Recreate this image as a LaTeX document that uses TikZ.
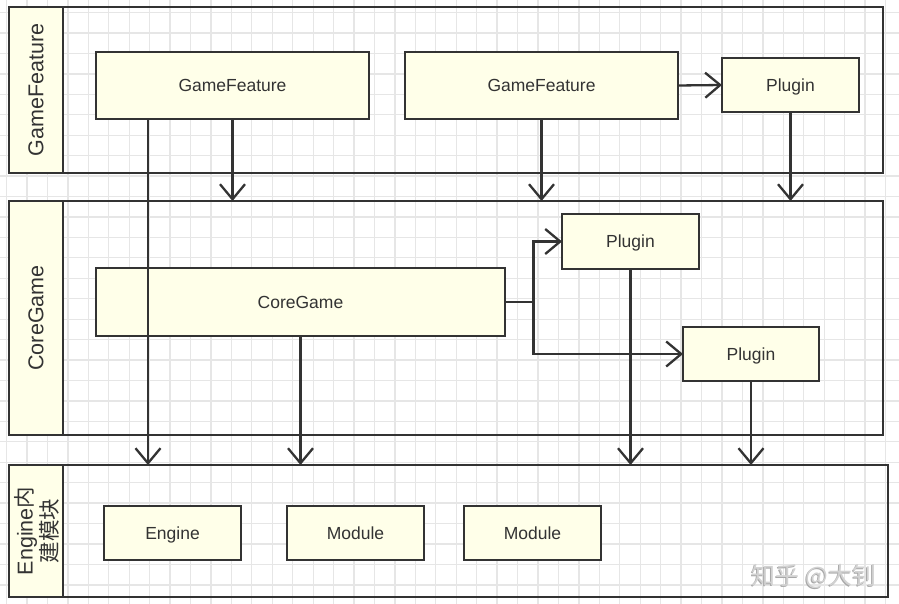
\documentclass[tikz,border=0pt]{standalone}
\usepackage{fontspec}
\setmainfont{Liberation Sans}
\newfontfamily\cjk{Noto Sans CJK SC}
\usetikzlibrary{arrows.meta}
\definecolor{ink}{HTML}{333333}
\definecolor{cream}{HTML}{FFFFE9}
\definecolor{gridline}{HTML}{E6E6E6}
\definecolor{markdark}{HTML}{A8A8A8}
\definecolor{marklight}{HTML}{D2D2D2}

\begin{document}
\begin{tikzpicture}[x=1pt,y=-1pt,
  every node/.style={inner sep=0pt, outer sep=0pt},
  box/.style={draw=ink, fill=cream, line width=2.3pt, text=ink,
    font=\fontsize{17.5}{21}\selectfont, text height=12.6pt, text depth=0pt},
  pool/.style={draw=ink, line width=2.6pt},
  strip/.style={draw=ink, fill=cream, line width=2.3pt},
  lane/.style={text=ink, font=\fontsize{21.5}{25}\selectfont, rotate=90, align=center},
  flow/.style={draw=ink, line width=2.3pt, -{Straight Barb[length=15pt,width=25pt]}},
]
\useasboundingbox (0,0) rectangle (899,604);
\fill[white] (0,0) rectangle (899,604);

% background grid
\foreach \i in {0,...,44}
  \draw[gridline, line width=1.3pt] ({6.56+20.44*\i},0) -- ({6.56+20.44*\i},604);
\foreach \j in {0,...,29}
  \draw[gridline, line width=1.3pt] (0,{12.56+20.44*\j}) -- (899,{12.56+20.44*\j});

% swimlanes
\node[pool, minimum width=874pt, minimum height=166pt] (poolGF) at (446,90) {};
\node[strip, minimum width=54pt, minimum height=166pt] (stripGF) at (36,90) {};
\node[lane] (labGF) at (36,90) {GameFeature};

\node[pool, minimum width=874pt, minimum height=234pt] (poolCG) at (446,318) {};
\node[strip, minimum width=54pt, minimum height=234pt] (stripCG) at (36,318) {};
\node[lane] (labCG) at (36,318) {CoreGame};

\node[pool, minimum width=879pt, minimum height=132pt] (poolEN) at (448.5,531) {};
\node[strip, minimum width=54pt, minimum height=132pt] (stripEN) at (36,531) {};
\node[lane] (labEN) at (37,531) {Engine{\cjk 内}\\{\cjk 建模块}};

% modules
\node[box, minimum width=273pt, minimum height=67pt] (gf1) at (232.5,85.5) {GameFeature};
\node[box, minimum width=273pt, minimum height=67pt] (gf2) at (541.5,85.5) {GameFeature};
\node[box, minimum width=137pt, minimum height=54pt] (ptop) at (790.5,85) {Plugin};
\node[box, minimum width=137pt, minimum height=55pt] (pc1) at (630.5,241.5) {Plugin};
\node[box, minimum width=409pt, minimum height=68pt] (core) at (300.5,302) {CoreGame};
\node[box, minimum width=136pt, minimum height=54pt] (pc2) at (751,354) {Plugin};
\node[box, minimum width=137pt, minimum height=54pt] (eng) at (172.5,533) {Engine};
\node[box, minimum width=137pt, minimum height=54pt] (mod1) at (355.5,533) {Module};
\node[box, minimum width=137pt, minimum height=54pt] (mod2) at (532.5,533) {Module};

% dependencies
\coordinate (xa) at (148,0);
\coordinate (br) at (533.5,302);
\draw[flow] (gf1.south -| xa) -- (poolEN.north -| xa);
\draw[flow] (gf1.south) -- (gf1.south |- poolCG.north);
\draw[flow] (gf2.south) -- (gf2.south |- poolCG.north);
\draw[flow] (gf2.east) -- (ptop.west);
\draw[flow] (ptop.south) -- (ptop.south |- poolCG.north);
\draw[flow] (core.south) -- (core.south |- poolEN.north);
\draw[flow] (core.east) -- (br) |- (pc1.west);
\draw[flow] (br) |- (pc2.west);
\draw[flow] (pc1.south) -- (pc1.south |- poolEN.north);
\draw[flow] (pc2.south) -- (pc2.south |- poolEN.north);

% watermark
\node[text=markdark, font=\cjk\fontsize{24}{24}\selectfont] (wmshadow) at (813,577) {知乎 @大钊};
\node[text=marklight, font=\cjk\fontsize{24}{24}\selectfont] (wm) at (814,576) {知乎 @大钊};
\end{tikzpicture}
\end{document}
